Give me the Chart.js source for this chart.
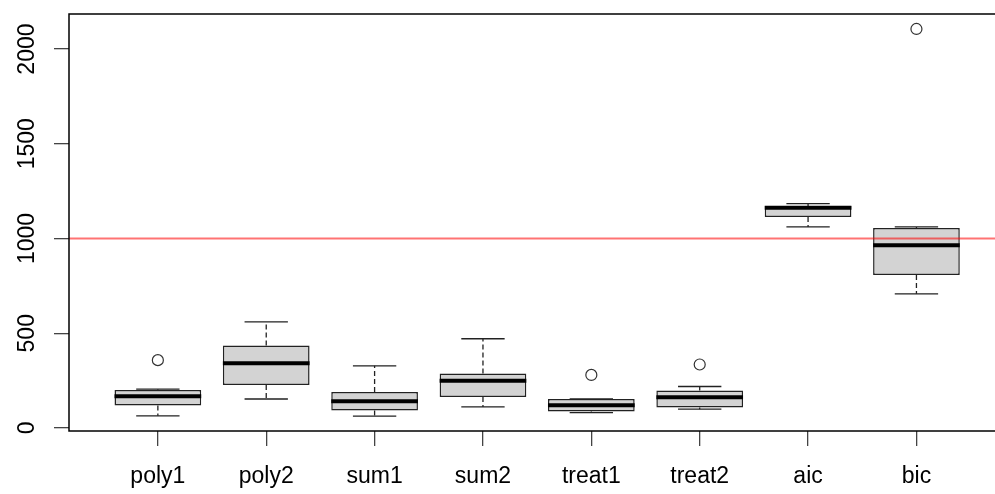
<!DOCTYPE html>
<html><head><meta charset="utf-8">
<script src="https://cdn.jsdelivr.net/npm/chart.js@4.4.1/dist/chart.umd.min.js"></script>
<style>
html,body{margin:0;padding:0;background:#fff;overflow:hidden;width:995px;height:494px}
#wrap{width:1012px;height:494px}
</style></head>
<body><div id="wrap"><canvas id="c" width="1012" height="494"></canvas></div>
<script>
const categories   = ['poly1','poly2','sum1','sum2','treat1','treat2','aic','bic'];
const lowerWhisker = [64, 153, 63, 111, 81, 99, 1061, 708];
const q1           = [118, 227, 92, 164, 87, 108, 1114, 807];
const median       = [168, 342, 141, 249, 120, 162, 1163, 964];
const q3           = [201, 435, 190, 288, 153, 198, 1172, 1056];
const upperWhisker = [205, 560, 328, 471, 153, 219, 1184, 1061];
const outliers     = [[358], [], [], [], [280], [335], [], [2106]];
const yTicks       = [0, 500, 1000, 1500, 2000];
const refLine      = 1000;

const FONT = '23px "Liberation Sans", Arial, sans-serif';
const INK = '#222';

const boxData = categories.map((c, i) => ({x: i + 1, y: [q1[i], q3[i]]}));
const outData = outliers.flatMap((vals, i) => vals.map(v => ({x: i + 1, y: v})));

const rbox = {
  id: 'rbox',
  afterDatasetsDraw(chart) {
    const {ctx, scales: {x, y}, chartArea: a} = chart;
    const unit = x.getPixelForValue(2) - x.getPixelForValue(1);
    ctx.save();
    categories.forEach((c, i) => {
      const cx = x.getPixelForValue(i + 1);
      ctx.strokeStyle = INK; ctx.lineWidth = 1.3;
      ctx.setLineDash([5, 3]);
      ctx.beginPath();
      ctx.moveTo(cx, y.getPixelForValue(q3[i])); ctx.lineTo(cx, y.getPixelForValue(upperWhisker[i]));
      ctx.moveTo(cx, y.getPixelForValue(q1[i])); ctx.lineTo(cx, y.getPixelForValue(lowerWhisker[i]));
      ctx.stroke();
      ctx.setLineDash([]);
      ctx.beginPath();
      const cw = unit * 0.2;
      ctx.moveTo(cx - cw, y.getPixelForValue(upperWhisker[i])); ctx.lineTo(cx + cw, y.getPixelForValue(upperWhisker[i]));
      ctx.moveTo(cx - cw, y.getPixelForValue(lowerWhisker[i])); ctx.lineTo(cx + cw, y.getPixelForValue(lowerWhisker[i]));
      ctx.stroke();
      const bw = unit * 0.4;
      ctx.lineWidth = 4; ctx.strokeStyle = '#000';
      ctx.beginPath();
      ctx.moveTo(cx - bw, y.getPixelForValue(median[i])); ctx.lineTo(cx + bw, y.getPixelForValue(median[i]));
      ctx.stroke();
    });
    ctx.strokeStyle = 'rgba(255,0,0,0.55)'; ctx.lineWidth = 2;
    ctx.beginPath();
    ctx.moveTo(a.left, y.getPixelForValue(refLine)); ctx.lineTo(a.right, y.getPixelForValue(refLine));
    ctx.stroke();
    ctx.strokeStyle = '#000'; ctx.lineWidth = 1.5;
    ctx.strokeRect(a.left, a.top, a.right - a.left, a.bottom - a.top);
    ctx.fillStyle = '#000'; ctx.font = FONT;
    ctx.textAlign = 'center'; ctx.textBaseline = 'alphabetic';
    categories.forEach((c, i) => {
      ctx.fillText(c, x.getPixelForValue(i + 1), 483);
    });
    yTicks.forEach(v => {
      ctx.save();
      ctx.translate(33.5, y.getPixelForValue(v));
      ctx.rotate(-Math.PI / 2);
      ctx.fillText(String(v), 0, 0);
      ctx.restore();
    });
    ctx.restore();
  }
};

new Chart(document.getElementById('c'), {
  data: {
    datasets: [
      {type: 'bar', data: boxData, backgroundColor: '#d3d3d3', borderColor: '#222',
       borderWidth: 1.5, borderSkipped: false, categoryPercentage: 1, barPercentage: 0.8, order: 2},
      {type: 'scatter', data: outData, pointRadius: 5.5, pointStyle: 'circle',
       borderColor: '#333', borderWidth: 1.2, backgroundColor: 'rgba(0,0,0,0)', order: 1}
    ]
  },
  options: {
    responsive: false, animation: false, devicePixelRatio: 1,
    layout: {padding: {left: 0, top: 14, right: 0, bottom: 0}},
    plugins: {legend: {display: false}, tooltip: {enabled: false}},
    scales: {
      x: {type: 'linear', min: 0.18, max: 8.82, offset: false,
          afterBuildTicks: s => { s.ticks = categories.map((c, i) => ({value: i + 1})); },
          afterFit: s => { s.height = 63; },
          ticks: {display: false},
          grid: {offset: false, drawOnChartArea: false, drawTicks: true, tickLength: 15, color: '#444', lineWidth: 1.3},
          border: {display: false}},
      y: {type: 'linear', min: -16, max: 2185,
          afterBuildTicks: s => { s.ticks = yTicks.map(v => ({value: v})); },
          afterFit: s => { s.width = 69; },
          ticks: {display: false},
          grid: {drawOnChartArea: false, drawTicks: true, tickLength: 15, color: '#444', lineWidth: 1.3},
          border: {display: false}}
    }
  },
  plugins: [rbox]
});
</script>
</body></html>
